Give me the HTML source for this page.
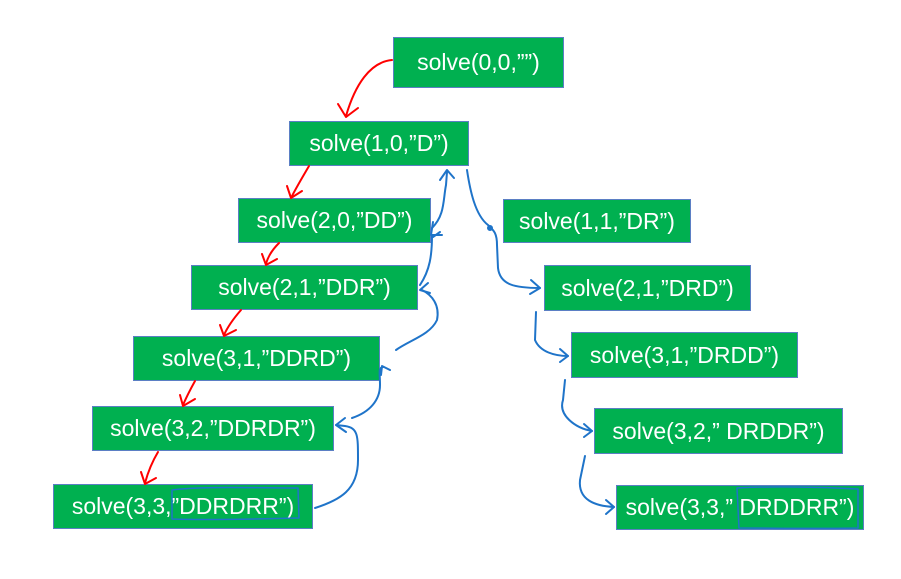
<!DOCTYPE html>
<html><head><meta charset="utf-8"><style>
html,body{margin:0;padding:0;background:#fff;width:901px;height:579px;overflow:hidden}
.b{position:absolute;background:#00B050;border:1px solid #5B7FC4;box-sizing:border-box;color:#fff;font:23px "Liberation Sans",sans-serif;display:flex;align-items:center;justify-content:center;white-space:pre}
svg{position:absolute;left:0;top:0}
</style></head><body>
<div class="b" style="left:393px;top:37px;width:171px;height:51px">solve(0,0,””)</div>
<div class="b" style="left:289px;top:121px;width:180px;height:45px">solve(1,0,”D”)</div>
<div class="b" style="left:238px;top:198px;width:193px;height:45px">solve(2,0,”DD”)</div>
<div class="b" style="left:191px;top:265px;width:227px;height:45px">solve(2,1,”DDR”)</div>
<div class="b" style="left:133px;top:336px;width:247px;height:45px">solve(3,1,”DDRD”)</div>
<div class="b" style="left:92px;top:406px;width:242px;height:45px">solve(3,2,”DDRDR”)</div>
<div class="b" style="left:53px;top:484px;width:260px;height:45px">solve(3,3,”DDRDRR”)</div>
<div class="b" style="left:503px;top:199px;width:188px;height:44px">solve(1,1,”DR”)</div>
<div class="b" style="left:544px;top:265px;width:207px;height:46px">solve(2,1,”DRD”)</div>
<div class="b" style="left:571px;top:332px;width:227px;height:46px">solve(3,1,”DRDD”)</div>
<div class="b" style="left:594px;top:408px;width:249px;height:46px">solve(3,2,” DRDDR”)</div>
<div class="b" style="left:616px;top:485px;width:248px;height:45px">solve(3,3,” DRDDRR”)</div>
<svg width="901" height="579" fill="none" stroke-width="2" stroke-linecap="round" stroke-linejoin="round">
<g stroke="#FF0000">
<path d="M392 60 C370 62 355 85 346 116"/><path d="M338 104 L346 117 L358 108"/>
<path d="M309 166 C302 178 296 188 291 198"/><path d="M287 186 L291 198 L302 191"/>
<path d="M279 243 C272 250 268 256 266 264"/><path d="M262 254 L266 265 L277 259"/>
<path d="M241 310 C234 318 228 326 224 335"/><path d="M220 325 L224 336 L236 330"/>
<path d="M195 381 C190 390 186 398 183 405"/><path d="M180 395 L183 406 L195 399"/>
<path d="M158 452 C152 462 148 472 145 483"/><path d="M141 472 L145 484 L156 478"/>
</g>
<g stroke="#1F74C9">
<path d="M315 508 C340 500 358 490 358 460 C358 435 358 428 345 426 L336 425"/><path d="M345 418 L336 425 L346 432"/>
<path d="M352 418 C370 412 380 400 380 385 C380 372 378 368 383 367"/><path d="M381 375 L382 366 L390 370"/>
<path d="M396 350 C410 340 430 335 437 320 C440 305 432 295 422 290"/><path d="M428 283 L420 290 L430 293"/>
<path d="M420 285 C430 270 432 255 432 235"/><path d="M432 228 C445 215 443 200 446 185 L447 172"/><path d="M440 180 L447 170 L454 178"/>
<path d="M433 237 L440 232"/><path d="M433 222 L431 235 L442 235"/>
<path d="M467 170 C470 190 475 215 488 225 C493 230 497 232 497 245 L498 268 C500 285 515 288 540 288"/><path d="M531 280 L540 288 L530 294"/>
<circle cx="490" cy="228" r="2" fill="#1F74C9"/>
<path d="M536 312 L535 340 C540 352 555 356 568 356"/><path d="M560 349 L568 356 L560 362"/>
<path d="M565 380 L563 400 C558 415 575 428 592 431"/><path d="M584 424 L592 431 L584 437"/>
<path d="M585 456 L580 480 C578 500 595 506 614 507"/><path d="M606 500 L614 507 L606 514"/>
<path d="M172 490 C200 486 260 488 298 488 L299 518 C260 519 200 520 172 519 Z" stroke-width="1.5"/>
<path d="M737 488 C770 486 820 487 858 489 L858 528 C820 529 770 528 739 528 Z" stroke-width="1.5"/>
</g>
</svg>
</body></html>
